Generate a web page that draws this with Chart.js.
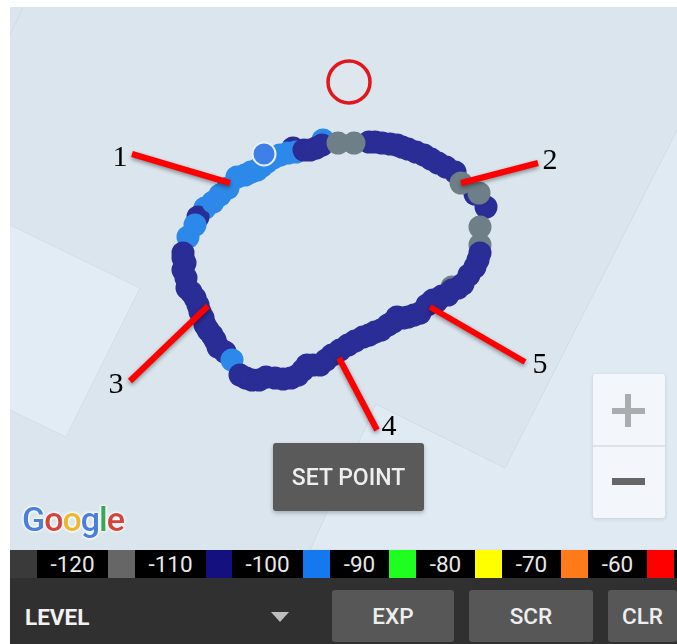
<!DOCTYPE html>
<html><head><meta charset="utf-8">
<script src="https://cdn.jsdelivr.net/npm/chart.js@4"></script>
<style>
html,body{margin:0;padding:0;background:#fff;width:677px;height:644px;overflow:hidden}
#wrap{position:relative;width:677px;height:644px;font-family:Roboto,sans-serif}
canvas{position:absolute;left:0;top:0}
.abs{position:absolute;display:flex;align-items:center;justify-content:center;box-sizing:border-box}
#bar{position:absolute;left:10px;top:550px;width:667px;height:28px;background:#000}
#panel{position:absolute;left:10px;top:578px;width:667px;height:66px;background:#303030}
.btn{background:#575757;color:#eee;font-weight:500;font-size:22.5px;border-radius:3px}
.leg{color:#e8e8e8;font-size:22.5px;top:550px;height:28px}
</style></head><body>
<div id="wrap"><canvas id="c" width="677" height="644"></canvas>
<div id="panel"></div><div id="bar"></div>
<div id="ui"></div></div>
<script>
// signal track (map-pixel units), level in dBm; array order = paint order
const trackX=[452,480,475, 205,198,293,323,
 188,195,213,220,228,237,245,251,257,262,267,273,280,288,296,
 218,225,232,
 183,183,185,183,186,187,191,195,198,200,203,205,208,212,215,
 240,246,252,259,266,275,283,291,298,303,307,313,320,326,332,340,348,355,363,369,375,381,388,393,397,403,408,414,420,427,433,437,442,448,452,458,463,469,475,478,480,486,
 304,310,316,322,369,375,382,390,397,402,408,416,424,431,438,446,455,
 338,354,461,479,480];
const trackY=[287,245,194, 208,217,148,140,
 237,225,202,195,188,177,175,172,170,166,162,158,155,153,152,
 347,352,360,
 253,258,263,270,278,288,292,298,305,312,318,325,330,335,340,
 375,378,380,380,377,378,379,378,375,370,365,365,365,360,355,350,345,341,337,335,332,330,325,322,317,318,317,315,313,305,300,301,296,295,290,288,284,275,267,260,253,207,
 150,150,148,145,142,142,143,144,145,147,149,152,155,159,163,167,172,
 143,143,183,193,227];
const trackLevel=[-110,-110,-100, -90,-100,-100,-90,
 -90,-90,-90,-90,-90,-90,-90,-90,-90,-90,-90,-90,-90,-90,-90,
 -100,-100,-90,
 -100,-100,-100,-100,-100,-100,-100,-100,-100,-100,-100,-100,-100,-100,-100,
 -100,-100,-100,-100,-100,-100,-100,-100,-100,-100,-100,-100,-100,-100,-100,-100,-100,-100,-100,-100,-100,-100,-100,-100,-100,-100,-100,-100,-100,-100,-100,-100,-100,-100,-100,-100,-100,-100,-100,-100,-100,-100,
 -100,-100,-100,-100,-100,-100,-100,-100,-100,-100,-100,-100,-100,-100,-100,-100,-100,
 -110,-110,-110,-110,-110];
const levelColors={"-110":"#6f7f87","-100":"#2a2d96","-90":"#2c89ea"};
const currentX=[264], currentY=[154];
const targetX=[349], targetY=[82];
const calloutLabels=["1","2","3","4","5"];
const calloutFromX=[132,538,130,377,525], calloutFromY=[154,163,381,430,362];
const calloutToX=[230,461,208,339,430], calloutToY=[183,183,306,358,307];
const calloutTextX=[120,550,116,389,540], calloutTextY=[158,161,385,427,365];
const legendLabels=["-120","-110","-100","-90","-80","-70","-60"];
const legendColors=["#3a3a3a","#666666","#14107f","#1478ee","#1fff1f","#ffff00","#ff7a18","#ff0000"];
const buttonLabels=["EXP","SCR","CLR"];

const mapPlugin={id:'map',beforeDatasetsDraw(ch){
  const {ctx,scales:{x,y}}=ch;
  const poly=(pts,fill,stroke)=>{ctx.beginPath();pts.forEach((p,i)=>{i?ctx.lineTo(x.getPixelForValue(p[0]),y.getPixelForValue(p[1])):ctx.moveTo(x.getPixelForValue(p[0]),y.getPixelForValue(p[1]))});
    if(fill){ctx.fillStyle=fill;ctx.fill()} if(stroke){ctx.strokeStyle=stroke;ctx.lineWidth=1;ctx.stroke()}};
  ctx.save();
  poly([[10,7],[677,7],[677,550],[10,550]],'#dbe5ee');
  poly([[677,130],[505,468],[376,404],[310,550],[677,550]],'#dfeaf3','#d0dde7');
  poly([[10,225],[140,288],[66,437],[10,410]],'#e1ecf4','#d3dfe9');
  poly([[10,35],[23,7]],null,'#d0dde7');
  ctx.restore();
}};
const calloutPlugin={id:'callouts',afterDatasetsDraw(ch){
  const {ctx,scales:{x,y}}=ch;
  ctx.save();ctx.fillStyle='#000';ctx.font='30px "Liberation Serif"';ctx.textAlign='center';ctx.textBaseline='middle';
  calloutLabels.forEach((t,i)=>ctx.fillText(t,x.getPixelForValue(calloutTextX[i]),y.getPixelForValue(calloutTextY[i])));
  ctx.restore();
}};
const shadowPlugin={id:'shade',beforeDatasetDraw(ch,a){if(ch.data.datasets[a.index].callout){ch.ctx.save();ch.ctx.shadowColor='rgba(0,0,0,.4)';ch.ctx.shadowBlur=4;ch.ctx.shadowOffsetY=2;}},
  afterDatasetDraw(ch,a){if(ch.data.datasets[a.index].callout)ch.ctx.restore();}};

const toPts=(xs,ys)=>xs.map((v,i)=>({x:v,y:ys[i]}));
const datasets=[
 {data:toPts(trackX,trackY),order:3,pointRadius:11.5,pointBorderWidth:0,showLine:false,
  pointBackgroundColor:trackLevel.map(l=>levelColors[l])},
 {data:toPts(currentX,currentY),order:2,pointRadius:11.5,pointBorderWidth:2,pointBackgroundColor:'#3f7fe8',pointBorderColor:'#e8f0f5',showLine:false},
 {data:toPts(targetX,targetY),order:2,pointRadius:21,pointBorderWidth:3.5,pointBackgroundColor:'#dfe7ee',pointBorderColor:'#e3161c',showLine:false}
];
calloutLabels.forEach((t,i)=>datasets.push({callout:true,data:[{x:calloutFromX[i],y:calloutFromY[i]},{x:calloutToX[i],y:calloutToY[i]}],
  order:1,showLine:true,borderColor:'#ff0000',borderWidth:6,pointRadius:0,borderCapStyle:'butt'}));

new Chart(document.getElementById('c'),{type:'scatter',data:{datasets},
 plugins:[mapPlugin,shadowPlugin,calloutPlugin],
 options:{responsive:false,animation:false,events:[],layout:{padding:0,autoPadding:false},
  plugins:{legend:{display:false},tooltip:{enabled:false}},
  scales:{x:{type:'linear',min:0,max:677,display:false},y:{type:'linear',min:0,max:644,reverse:true,display:false}}}});

// app chrome
const ui=document.getElementById('ui');
const add=(cls,css,html)=>{const d=document.createElement('div');d.className='abs '+cls;d.style.cssText=css;d.innerHTML=html||'';ui.appendChild(d);return d};
const swX=[10,108,206,303,389,475,561,647], swW=[27,27,26,27,27,27,27,27];
legendColors.forEach((c,i)=>add('',`left:${swX[i]}px;top:550px;width:${swW[i]}px;height:28px;background:${c}`));
legendLabels.forEach((t,i)=>add('leg',`left:${swX[i]+swW[i]}px;width:${swX[i+1]-swX[i]-swW[i]}px`,t));
const bX=[332,469,608], bW=[122,124,69];
buttonLabels.forEach((t,i)=>add('btn',`left:${bX[i]}px;top:590px;width:${bW[i]}px;height:52px`,t));
add('',"left:25px;top:602px;height:30px;color:#f2f2f2;font-weight:700;font-size:22.5px;justify-content:flex-start",'LEVEL');
add('',"left:271px;top:612px;width:0;height:0;border-left:9px solid transparent;border-right:9px solid transparent;border-top:10px solid #bdbdbd");
add('btn',"left:273px;top:443px;width:151px;height:68px;background:#5a5a5a;font-size:23px;box-shadow:0 2px 4px rgba(0,0,0,.25)",'SET POINT');
add('',"left:593px;top:374px;width:72px;height:144px;background:#f3f6fa;border-radius:3px;box-shadow:0 1px 4px rgba(0,0,0,.12)");
add('',"left:593px;top:445px;width:72px;height:1.5px;background:#dfe3e8");
add('',"left:612px;top:408px;width:33px;height:6px;background:#a9adb0");
add('',"left:625px;top:394px;width:6px;height:33px;background:#a9adb0");
add('',"left:612px;top:478px;width:33px;height:7px;background:#666");
const g=add('',"left:22px;top:499px;height:40px;font-family:Roboto,sans-serif;font-weight:500;font-size:34px;letter-spacing:-1px;justify-content:flex-start;text-shadow:0 0 3px #fff,0 0 3px #fff,0 0 3px #fff");
[["G","#4a7fde"],["o","#d2453a"],["o","#eab82c"],["g","#4a7fde"],["l","#3aa757"],["e","#d2453a"]].forEach(p=>{const s=document.createElement('span');s.textContent=p[0];s.style.color=p[1];g.appendChild(s)});
</script></body></html>
